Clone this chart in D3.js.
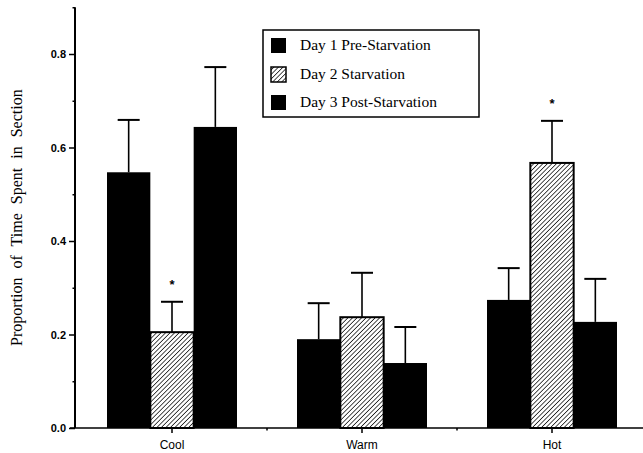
<!DOCTYPE html>
<html>
<head>
<meta charset="utf-8">
<script src="https://cdn.jsdelivr.net/npm/d3@7"></script>
<style>
  html, body { margin: 0; padding: 0; background: #fff; }
  svg { display: block; }
</style>
</head>
<body>
<svg id="chart" width="643" height="453"></svg>
<script>
// Temperature sections along the gradient
const categories = ["Cool", "Warm", "Hot"];
const seriesNames = ["Day 1 Pre-Starvation", "Day 2 Starvation", "Day 3 Post-Starvation"];

// Mean proportion of time spent in each section
const day1Values = [0.547, 0.190, 0.274];
const day2Values = [0.205, 0.237, 0.567];
const day3Values = [0.644, 0.139, 0.227];

// Upper error (standard error) for each mean
const day1Errors = [0.112, 0.077, 0.068];
const day2Errors = [0.065, 0.095, 0.090];
const day3Errors = [0.128, 0.077, 0.092];

// Significant differences marked with an asterisk (series index, category)
const significant = [[1, "Cool"], [1, "Hot"]];

const yMajorTicks = [0, 0.2, 0.4, 0.6, 0.8];
const yMinorTicks = [0.1, 0.3, 0.5, 0.7, 0.9];

const values = [day1Values, day2Values, day3Values];
const errors = [day1Errors, day2Errors, day3Errors];

const svg = d3.select("#chart");
const axisX = 75;

const x0 = d3.scaleBand().domain(categories).range([77, 647]).padding(0);
const x1 = d3.scaleBand().domain(d3.range(3)).range([30, 160]).padding(0);
const y = d3.scaleLinear().domain([0, 0.9]).range([428, 7.25]);

// Hatch pattern for the starvation day
const defs = svg.append("defs");
const pat = defs.append("pattern")
  .attr("id", "hatch")
  .attr("patternUnits", "userSpaceOnUse")
  .attr("width", 3.2).attr("height", 3.2)
  .attr("patternTransform", "rotate(45)");
pat.append("rect").attr("width", 3.2).attr("height", 3.2).attr("fill", "#fff");
pat.append("line").attr("x1", 0).attr("y1", 0).attr("x2", 0).attr("y2", 3.2)
  .attr("stroke", "#000").attr("stroke-width", 1.4);

const fills = ["#000", "url(#hatch)", "#000"];

// Bars
const rows = [];
categories.forEach((c, ci) => {
  values.forEach((vals, si) => {
    rows.push({ cat: c, s: si, v: vals[ci], e: errors[si][ci] });
  });
});

const g = svg.append("g");
g.selectAll("rect.bar").data(rows).join("rect")
  .attr("class", "bar")
  .attr("x", d => x0(d.cat) + x1(d.s))
  .attr("y", d => y(d.v))
  .attr("width", x1.bandwidth())
  .attr("height", d => y(0) - y(d.v))
  .attr("fill", d => fills[d.s])
  .attr("stroke", "#000")
  .attr("stroke-width", d => d.s === 1 ? 2 : 0);

// Error bars
const cx = d => x0(d.cat) + x1(d.s) + x1.bandwidth() / 2;
g.selectAll("line.err").data(rows).join("line")
  .attr("class", "err")
  .attr("x1", cx).attr("x2", cx)
  .attr("y1", d => y(d.v)).attr("y2", d => y(d.v + d.e))
  .attr("stroke", "#000").attr("stroke-width", 1.6);
g.selectAll("line.cap").data(rows).join("line")
  .attr("class", "cap")
  .attr("x1", d => cx(d) - 11).attr("x2", d => cx(d) + 11)
  .attr("y1", d => y(d.v + d.e)).attr("y2", d => y(d.v + d.e))
  .attr("stroke", "#000").attr("stroke-width", 2);

// Asterisks
g.selectAll("text.sig").data(rows.filter(d => significant.some(s => s[0] === d.s && s[1] === d.cat)))
  .join("text")
  .attr("class", "sig")
  .attr("x", cx)
  .attr("y", d => y(d.v + d.e) - 13)
  .attr("text-anchor", "middle")
  .attr("font-family", "Liberation Sans, Arial, sans-serif")
  .attr("font-size", 13)
  .attr("font-weight", "bold")
  .text("*");

// Y axis
const yAxis = svg.append("g").attr("transform", `translate(${axisX},0)`);
yAxis.call(d3.axisLeft(y).tickValues(yMajorTicks).tickSize(6).tickFormat(d3.format(".1f")))
  .call(a => a.select(".domain").remove());
yAxis.selectAll(".tick line").attr("stroke-width", 1.5);
yAxis.selectAll(".tick text")
  .attr("font-family", "Liberation Sans, Arial, sans-serif")
  .attr("font-size", 11).attr("font-weight", "bold").attr("x", -9);
const yMinor = svg.append("g").attr("transform", `translate(${axisX},0)`);
yMinor.call(d3.axisLeft(y).tickValues(yMinorTicks).tickSize(2.5).tickFormat(""))
  .call(a => a.select(".domain").remove());
yMinor.selectAll(".tick line").attr("stroke-width", 1.5);
svg.append("line").attr("x1", axisX).attr("x2", axisX)
  .attr("y1", y(0.9)).attr("y2", y(0))
  .attr("stroke", "#000").attr("stroke-width", 2);

// X axis
const xAxis = svg.append("g").attr("transform", `translate(0,${y(0)})`);
xAxis.call(d3.axisBottom(x0).tickSize(5).tickSizeOuter(0))
  .call(a => a.select(".domain").remove());
xAxis.selectAll(".tick line").attr("stroke-width", 1.5);
xAxis.selectAll(".tick text")
  .attr("font-family", "Liberation Sans, Arial, sans-serif")
  .attr("font-size", 12).attr("dy", "1.05em");
const boundaries = categories.slice(1).map(c => x0(c));
xAxis.selectAll("line.minor").data(boundaries).join("line")
  .attr("class", "minor")
  .attr("x1", d => d).attr("x2", d => d).attr("y1", 0).attr("y2", 2.5)
  .attr("stroke", "#000").attr("stroke-width", 1.5);
svg.append("line").attr("x1", axisX - 5).attr("x2", 643)
  .attr("y1", y(0)).attr("y2", y(0))
  .attr("stroke", "#000").attr("stroke-width", 1.6);

// Y axis title
svg.append("text")
  .attr("transform", `translate(22,${(y(0) + y(0.9)) / 2}) rotate(-90)`)
  .attr("text-anchor", "middle")
  .attr("font-family", "Liberation Serif, Times New Roman, serif")
  .attr("font-size", 16)
  .attr("word-spacing", 5)
  .text("Proportion of Time Spent in Section");

// Legend
const legend = svg.append("g");
legend.append("rect")
  .attr("x", 263).attr("y", 30).attr("width", 216).attr("height", 87)
  .attr("fill", "#fff").attr("stroke", "#000").attr("stroke-width", 1.5);
const rowY = [45, 74, 102];
const li = legend.selectAll("g.item").data(seriesNames).join("g")
  .attr("class", "item")
  .attr("transform", (d, i) => `translate(271,${rowY[i]})`);
li.append("rect")
  .attr("x", 0).attr("y", -7).attr("width", 15).attr("height", 15)
  .attr("fill", (d, i) => fills[i]).attr("stroke", "#000")
  .attr("stroke-width", (d, i) => i === 1 ? 1.5 : 0);
li.append("text")
  .attr("x", 29).attr("y", 5)
  .attr("font-family", "Liberation Serif, Times New Roman, serif")
  .attr("font-size", 15.5)
  .text(d => d);
</script>
</body>
</html>
